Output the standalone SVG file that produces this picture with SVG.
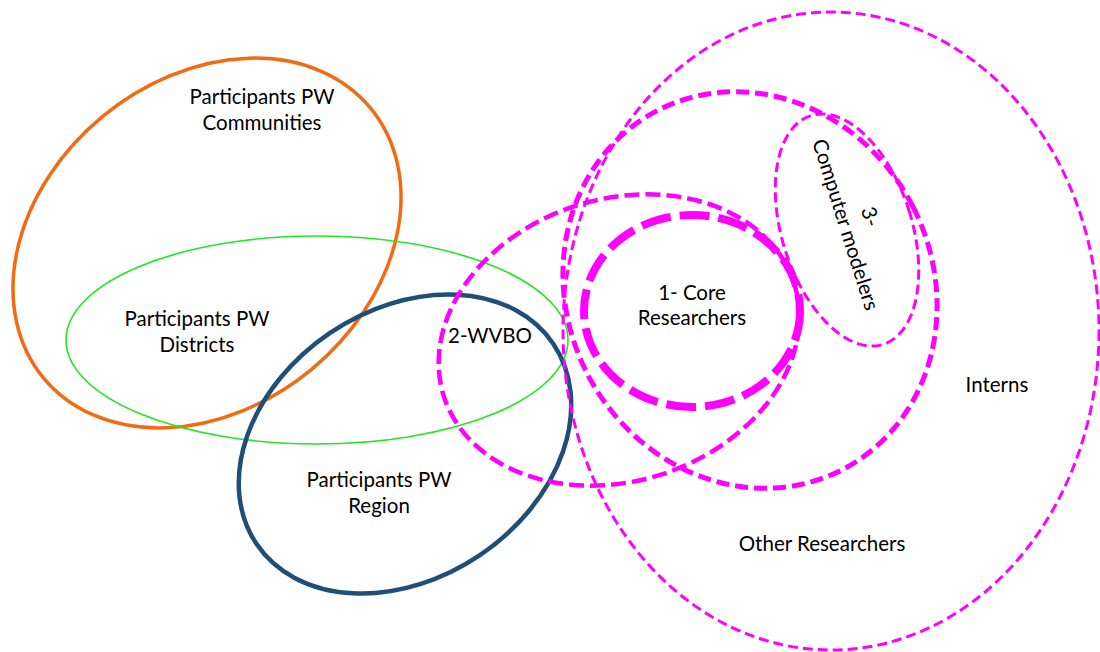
<svg xmlns="http://www.w3.org/2000/svg" width="1100" height="652" viewBox="0 0 1100 652">
<style>
.e{fill:none}
.lbl{font-family:Lato,"Open Sans","Liberation Sans",sans-serif;font-size:20.5px;fill:#000;text-anchor:middle}
.mag{stroke:#ff00ff}
</style>
<rect width="1100" height="652" fill="#ffffff"/>
<g id="communities">
<ellipse class="e" cx="207" cy="243" rx="212" ry="164" transform="rotate(-39.5 207 243)" stroke="#f26b12" stroke-width="3.5"/>
<text class="lbl" x="262" y="104">Participants PW</text>
<text class="lbl" x="262" y="130">Communities</text>
</g>
<g id="districts">
<ellipse class="e" cx="317" cy="340" rx="251" ry="104" stroke="#22e622" stroke-width="1.6"/>
<text class="lbl" x="197" y="326">Participants PW</text>
<text class="lbl" x="197" y="352">Districts</text>
</g>
<g id="region">
<ellipse class="e" cx="405" cy="444" rx="179" ry="134" transform="rotate(-34 405 444)" stroke="#1f4e79" stroke-width="4.5"/>
<text class="lbl" x="379" y="487">Participants PW</text>
<text class="lbl" x="379" y="513">Region</text>
</g>
<g id="other-researchers">
<ellipse class="e mag" cx="831" cy="331" rx="268" ry="319" stroke-width="3" stroke-dasharray="10 5"/>
<text class="lbl" x="822" y="551">Other Researchers</text>
</g>
<g id="interns">
<ellipse class="e mag" cx="750" cy="290" rx="183" ry="202" transform="rotate(-27 750 290)" stroke-width="5" stroke-dasharray="13 6"/>
<text class="lbl" x="997" y="392">Interns</text>
</g>
<g id="wvbo">
<ellipse class="e mag" cx="619" cy="340" rx="184" ry="141" transform="rotate(-18 619 340)" stroke-width="4.5" stroke-dasharray="15 6"/>
<text class="lbl" x="490" y="343">2-WVBO</text>
</g>
<g id="core">
<ellipse class="e mag" cx="692" cy="311" rx="108" ry="96" stroke-width="8" stroke-dasharray="30 9"/>
<text class="lbl" x="692" y="300">1- Core</text>
<text class="lbl" x="692" y="325">Researchers</text>
</g>
<g id="modelers">
<ellipse class="e mag" cx="847" cy="230" rx="65" ry="120" transform="rotate(-17.5 847 230)" stroke-width="3" stroke-dasharray="10 5"/>
<g transform="translate(857 221) rotate(72.5)">
<text class="lbl" x="0" y="-7">3-</text>
<text class="lbl" x="0" y="19">Computer modelers</text>
</g>
</g>
<g id="connectors"></g>
</svg>
